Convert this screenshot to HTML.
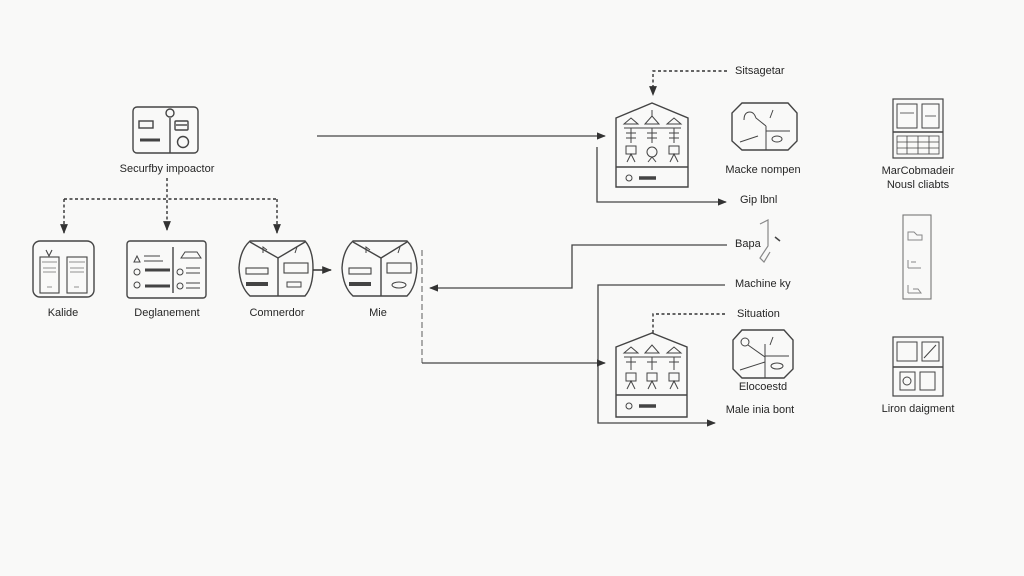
<!DOCTYPE html>
<html><head><meta charset="utf-8"><style>
html,body{margin:0;padding:0;background:#f9f9f8;}
svg{display:block;}
text{font-family:"Liberation Sans",sans-serif;font-size:11px;fill:#262626;}
</style></head><body>
<svg width="1024" height="576" viewBox="0 0 1024 576" xmlns="http://www.w3.org/2000/svg">
<defs>
<marker id="ah" viewBox="0 0 10 10" refX="9" refY="5" markerWidth="7" markerHeight="7" orient="auto"><path d="M0,1 L10,5 L0,9 z" fill="#333"/></marker>
</defs>
<rect width="1024" height="576" fill="#f9f9f8"/>
<g fill="none" stroke="#444" stroke-width="1.4">
<!-- Security box -->
<rect x="133" y="107" width="65" height="46" rx="4"/>
<line x1="170" y1="118" x2="170" y2="153"/>
<circle cx="170" cy="113" r="4"/>
<rect x="139" y="121" width="14" height="7"/>
<line x1="140" y1="140" x2="160" y2="140" stroke-width="3"/>
<rect x="175" y="121" width="13" height="9" rx="1"/>
<line x1="176" y1="125" x2="187" y2="125"/>
<circle cx="183" cy="142" r="5.5"/>
<!-- dashed tree -->
<g stroke-dasharray="3,2.5" stroke="#333">
<line x1="167" y1="178" x2="167" y2="230" marker-end="url(#ah)"/>
<line x1="64" y1="199" x2="277" y2="199"/>
<line x1="64" y1="199" x2="64" y2="233" marker-end="url(#ah)"/>
<line x1="277" y1="199" x2="277" y2="233" marker-end="url(#ah)"/>
</g>
<!-- Kalide -->
<rect x="33" y="241" width="61" height="56" rx="7"/>
<rect x="40" y="257" width="19" height="36" stroke-width="1.1"/>
<rect x="67" y="257" width="20" height="36" stroke-width="1.1"/>
<path d="M46,250 L49,256 L52,250" stroke-width="1.1"/>
<g stroke-width="0.8" stroke="#777">
<line x1="42" y1="262" x2="57" y2="262"/><line x1="69" y1="262" x2="85" y2="262"/>
<line x1="43" y1="268" x2="56" y2="268"/><line x1="70" y1="268" x2="84" y2="268"/>
<line x1="43" y1="272" x2="56" y2="272"/><line x1="70" y1="272" x2="84" y2="272"/>
<line x1="47" y1="287" x2="52" y2="287"/><line x1="74" y1="287" x2="79" y2="287"/>
</g>
<!-- Deglanement -->
<rect x="127" y="241" width="79" height="57" rx="3"/>
<line x1="173" y1="247" x2="173" y2="293"/>
<g stroke-width="1">
<path d="M134,262 l3,-6 l3,6 z"/><line x1="144" y1="256" x2="160" y2="256"/><line x1="144" y1="261" x2="163" y2="261"/>
<circle cx="137" cy="272" r="3"/><circle cx="137" cy="285" r="3"/>
<path d="M181,258 l4,-6 h12 l4,6 z"/><circle cx="180" cy="272" r="3"/><circle cx="180" cy="286" r="3"/>
<line x1="186" y1="268" x2="200" y2="268"/><line x1="186" y1="273" x2="200" y2="273"/>
<line x1="186" y1="283" x2="200" y2="283"/><line x1="186" y1="288" x2="200" y2="288"/>
</g>
<line x1="145" y1="270" x2="170" y2="270" stroke-width="3"/>
<line x1="145" y1="286" x2="170" y2="286" stroke-width="3"/>
<!-- Connector shape -->
<path d="M250,241 L305,241 Q313,250 313,268 Q313,287 305,296 L250,296 Q240,287 239,268 Q240,250 250,241 Z"/>
<path d="M250,242 L278,258 L305,242"/>
<line x1="278" y1="258" x2="278" y2="296"/>
<rect x="246" y="268" width="22" height="6" stroke-width="1.1"/>
<line x1="246" y1="284" x2="268" y2="284" stroke-width="4"/>
<rect x="284" y="263" width="24" height="10" stroke-width="1.1"/>
<rect x="287" y="282" width="14" height="5" stroke-width="1"/>
<path d="M263,253 l0,-6 l4,3" stroke-width="1"/><path d="M295,253 l2,-6" stroke-width="1"/>
<line x1="313" y1="270" x2="331" y2="270" stroke="#333" marker-end="url(#ah)"/>
<!-- Mie shape -->
<path d="M353,241 L407,241 Q416,250 417,268 Q416,287 407,296 L353,296 Q343,287 342,268 Q343,250 353,241 Z"/>
<path d="M353,242 L381,258 L407,242"/>
<line x1="381" y1="258" x2="381" y2="296"/>
<rect x="349" y="268" width="22" height="6" stroke-width="1.1"/>
<line x1="349" y1="284" x2="371" y2="284" stroke-width="4"/>
<rect x="387" y="263" width="24" height="10" stroke-width="1.1"/>
<ellipse cx="399" cy="285" rx="7" ry="3" stroke-width="1"/>
<path d="M366,253 l0,-6 l4,3" stroke-width="1"/><path d="M398,253 l2,-6" stroke-width="1"/>
<!-- dashed vertical -->
<line x1="422" y1="250" x2="422" y2="363" stroke="#777" stroke-width="1.2" stroke-dasharray="6,3"/>
<!-- connectors -->
<g stroke="#444" stroke-width="1.3">
<line x1="317" y1="136" x2="605" y2="136" marker-end="url(#ah)"/>
<polyline points="597,147 597,202 726,202" marker-end="url(#ah)"/>
<polyline points="727,245 572,245 572,288 430,288" marker-end="url(#ah)"/>
<polyline points="725,285 598,285 598,423 715,423" marker-end="url(#ah)"/>
<line x1="422" y1="363" x2="605" y2="363" marker-end="url(#ah)"/>
</g>
<g stroke="#333" stroke-dasharray="3,2.5">
<polyline points="727,71 653,71 653,95" marker-end="url(#ah)"/>
<polyline points="725,314 653,314 653,333"/>
</g>
<!-- Top house -->
<path d="M616,118 L652,103 L688,118 L688,187 L616,187 Z"/>
<line x1="616" y1="167" x2="688" y2="167"/>
<g stroke-width="1">
<path d="M624,124 l7,-6 l7,6 z"/><path d="M645,124 l7,-8 l7,8 z"/><path d="M667,124 l7,-6 l7,6 z"/>
<line x1="652" y1="116" x2="652" y2="110"/>
<line x1="624" y1="128" x2="681" y2="128"/>
<line x1="626" y1="133" x2="636" y2="133"/><line x1="647" y1="133" x2="657" y2="133"/><line x1="669" y1="133" x2="679" y2="133"/>
<line x1="626" y1="138" x2="636" y2="138"/><line x1="647" y1="138" x2="657" y2="138"/><line x1="669" y1="138" x2="679" y2="138"/>
<line x1="631" y1="128" x2="631" y2="143"/><line x1="652" y1="128" x2="652" y2="143"/><line x1="674" y1="128" x2="674" y2="143"/>
<rect x="626" y="146" width="10" height="8"/><circle cx="652" cy="152" r="5"/><rect x="669" y="146" width="10" height="8"/>
<path d="M627,162 l4,-8 l4,8"/><path d="M670,162 l4,-8 l4,8"/><path d="M648,162 l4,-5 l4,5"/>
<circle cx="629" cy="178" r="3"/>
</g>
<line x1="639" y1="178" x2="656" y2="178" stroke-width="3.5"/>
<!-- Bottom house -->
<path d="M616,347 L652,333 L687,347 L687,417 L616,417 Z"/>
<line x1="616" y1="395" x2="687" y2="395"/>
<g stroke-width="1">
<path d="M624,353 l7,-6 l7,6 z"/><path d="M645,353 l7,-8 l7,8 z"/><path d="M667,353 l7,-6 l7,6 z"/>
<line x1="624" y1="357" x2="681" y2="357"/>
<line x1="626" y1="362" x2="636" y2="362"/><line x1="647" y1="362" x2="657" y2="362"/><line x1="669" y1="362" x2="679" y2="362"/>
<line x1="631" y1="357" x2="631" y2="370"/><line x1="652" y1="357" x2="652" y2="370"/><line x1="674" y1="357" x2="674" y2="370"/>
<rect x="626" y="373" width="10" height="8"/><rect x="647" y="373" width="10" height="8"/><rect x="669" y="373" width="10" height="8"/>
<path d="M627,389 l4,-8 l4,8"/><path d="M648,389 l4,-8 l4,8"/><path d="M670,389 l4,-8 l4,8"/>
<circle cx="629" cy="406" r="3"/>
</g>
<line x1="639" y1="406" x2="656" y2="406" stroke-width="3.5"/>
<!-- Top octagon -->
<path d="M742,103 L788,103 L797,113 L797,141 L788,150 L742,150 L732,141 L732,113 Z"/>
<g stroke-width="1">
<path d="M744,120 q0,-8 6,-8 q4,0 6,6 l10,8"/><line x1="766" y1="126" x2="766" y2="150"/>
<line x1="766" y1="131" x2="790" y2="131"/><line x1="740" y1="142" x2="758" y2="136"/>
<path d="M770,118 l3,-8"/><ellipse cx="777" cy="139" rx="5" ry="3"/>
</g>
<!-- Bottom octagon -->
<path d="M742,330 L784,330 L793,340 L793,369 L784,378 L742,378 L733,369 L733,340 Z"/>
<g stroke-width="1">
<circle cx="745" cy="342" r="4"/><path d="M748,345 l17,12"/><line x1="765" y1="344" x2="765" y2="378"/>
<line x1="765" y1="356" x2="789" y2="356"/><line x1="740" y1="370" x2="765" y2="362"/>
<path d="M770,345 l3,-8"/><ellipse cx="777" cy="366" rx="6" ry="3"/>
</g>
<!-- Bapa glyph -->
<path d="M760,224 l8,-4 l0,26 l-8,12 l4,4 l6,-10" stroke="#888" stroke-width="1.2"/>
<path d="M775,237 l5,4" stroke="#444" stroke-width="1.5"/>
<!-- right column -->
<rect x="893" y="99" width="50" height="59" stroke-width="1.2"/>
<line x1="893" y1="132" x2="943" y2="132"/>
<rect x="897" y="104" width="20" height="24" stroke-width="1"/>
<rect x="922" y="104" width="17" height="24" stroke-width="1"/>
<g stroke-width="0.8"><rect x="897" y="136" width="42" height="18"/>
<line x1="897" y1="142" x2="939" y2="142"/><line x1="897" y1="148" x2="939" y2="148"/>
<line x1="907" y1="136" x2="907" y2="154"/><line x1="918" y1="136" x2="918" y2="154"/><line x1="929" y1="136" x2="929" y2="154"/>
<line x1="900" y1="113" x2="914" y2="113"/><line x1="925" y1="116" x2="936" y2="116"/></g>
<rect x="903" y="215" width="28" height="84" stroke="#777" stroke-width="1.1"/>
<g stroke="#888" stroke-width="1">
<path d="M908,240 l0,-8 l6,0 l3,3 l5,0 l0,5 z"/>
<path d="M908,268 l0,-8 M908,268 l13,0 M911,262 l5,0"/>
<path d="M908,293 l0,-8 M908,293 l13,0 l-3,-4 l-5,0"/>
</g>
<rect x="893" y="337" width="50" height="59" stroke-width="1.2"/>
<line x1="893" y1="367" x2="943" y2="367"/>
<g stroke-width="1">
<rect x="897" y="342" width="20" height="19"/><rect x="922" y="342" width="17" height="19"/>
<rect x="900" y="372" width="15" height="18"/><rect x="920" y="372" width="15" height="18"/>
<line x1="924" y1="358" x2="936" y2="345"/><circle cx="907" cy="381" r="4"/>
</g>
</g>
<!-- labels -->
<g text-anchor="middle">
<text x="167" y="172">Securfby impoactor</text>
<text x="63" y="316">Kalide</text>
<text x="167" y="316">Deglanement</text>
<text x="277" y="316">Comnerdor</text>
<text x="378" y="316">Mie</text>
<text x="763" y="173">Macke nompen</text>
<text x="763" y="390">Elocoestd</text>
<text x="760" y="413">Male inia bont</text>
<text x="918" y="174">MarCobmadeir</text>
<text x="918" y="188">Nousl cliabts</text>
<text x="918" y="412">Liron daigment</text>
</g>
<text x="735" y="74">Sitsagetar</text>
<text x="740" y="203">Gip lbnl</text>
<text x="735" y="247">Bapa</text>
<text x="735" y="287">Machine ky</text>
<text x="737" y="317">Situation</text>
</svg>
</body></html>
